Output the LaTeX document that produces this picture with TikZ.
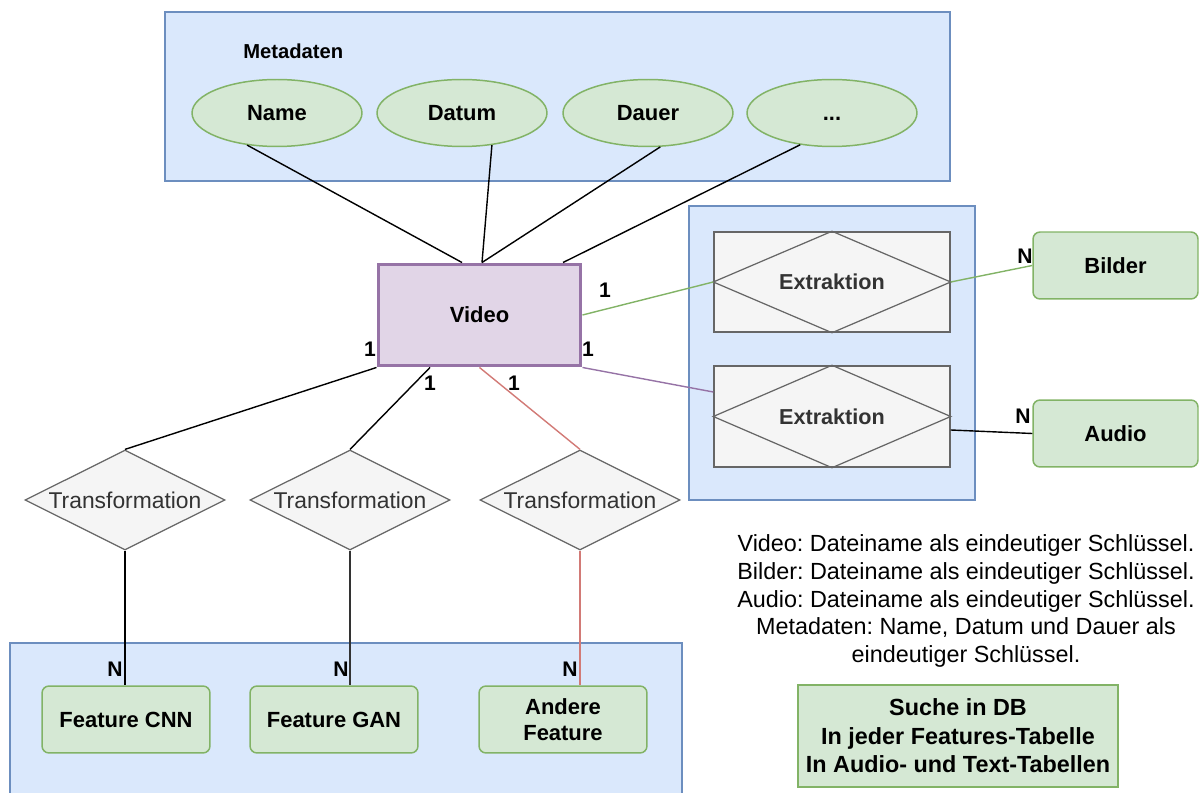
\documentclass[tikz,border=0pt]{standalone}
\usepackage{fontspec}
\setmainfont{Liberation Sans}
\usetikzlibrary{shapes.geometric,calc}
\definecolor{blueF}{HTML}{DAE8FC}
\definecolor{blueD}{HTML}{6C8EBF}
\definecolor{greenF}{HTML}{D5E8D4}
\definecolor{greenD}{HTML}{82B366}
\definecolor{purpleF}{HTML}{E1D5E7}
\definecolor{purpleD}{HTML}{9673A6}
\definecolor{grayF}{HTML}{F5F5F5}
\definecolor{grayD}{HTML}{666666}
\definecolor{txtgray}{HTML}{333333}
\definecolor{redL}{HTML}{D27A76}
\frenchspacing
\begin{document}
\begin{tikzpicture}[x=0.02cm,y=-0.02cm,
  group/.style={rectangle,draw=blueD,fill=blueF,line width=0.85pt,inner sep=0},
  attr/.style={ellipse,draw=greenD,fill=greenF,line width=0.85pt,minimum width=3.4cm,minimum height=1.34cm,inner sep=0,font=\fontsize{12.5pt}{15pt}\selectfont\bfseries},
  entity/.style={rectangle,rounded corners=4pt,draw=greenD,fill=greenF,line width=0.85pt,inner sep=0,font=\fontsize{12.5pt}{15pt}\selectfont\bfseries,align=center},
  trans/.style={diamond,draw=grayD,fill=grayF,line width=0.7pt,minimum width=4cm,minimum height=2cm,inner sep=0,text=txtgray,font=\fontsize{13pt}{15pt}\selectfont},
  extbox/.style={rectangle,draw=grayD,fill=grayF,line width=0.85pt,minimum width=4.72cm,minimum height=2cm,inner sep=0,text=txtgray,font=\fontsize{12.3pt}{15pt}\selectfont\bfseries},
  card/.style={inner sep=0,font=\fontsize{12pt}{14pt}\selectfont\bfseries},
  conn/.style={line width=0.8pt,draw=black},
]
\useasboundingbox (0,0) rectangle (1200,793);
\clip (0,0) rectangle (1200,793);

% group boxes
\node[group,minimum width=15.7cm,minimum height=3.38cm] (gmeta) at (557.5,96.5) {};
\node[group,minimum width=5.72cm,minimum height=5.88cm] (gext) at (832,353) {};
\node[group,minimum width=13.44cm,minimum height=3.34cm] (gfeat) at (346,726.5) {};

\node[anchor=west,inner sep=0,font=\fontsize{11.5pt}{14pt}\selectfont\bfseries] (mlabel) at (243,51) {Metadaten};

% attributes
\node[attr] (name) at (277,113) {Name};
\node[attr] (datum) at (462,113) {Datum};
\node[attr] (dauer) at (648,113) {Dauer};
\node[attr] (more) at (832,113) {\vphantom{N}...};

% video
\node[rectangle,draw=purpleD,fill=purpleF,line width=1.7pt,minimum width=4.06cm,minimum height=2.04cm,inner sep=0,font=\fontsize{12.5pt}{15pt}\selectfont\bfseries] (video) at (479.5,315) {Video};

% extraction
\node[extbox] (e1) at (832,282) {};
\node[extbox,minimum height=2.02cm] (e2) at (832,416.5) {};
\draw[grayD,line width=0.7pt] (e1.west) -- (e1.north) -- (e1.east) -- (e1.south) -- cycle;
\draw[grayD,line width=0.7pt] (e2.west) -- (e2.north) -- (e2.east) -- (e2.south) -- cycle;
\node[inner sep=0,text=txtgray,font=\fontsize{12.3pt}{15pt}\selectfont\bfseries] (e1t) at (e1.center) {Extraktion};
\node[inner sep=0,text=txtgray,font=\fontsize{12.3pt}{15pt}\selectfont\bfseries] (e2t) at (e2.center) {Extraktion};

\node[entity,minimum width=3.3cm,minimum height=1.34cm] (bilder) at (1115.5,265.5) {Bilder};
\node[entity,minimum width=3.3cm,minimum height=1.34cm] (audio) at (1115.5,433.5) {Audio};

% transformations
\node[trans] (t1) at (125,500) {\makebox[0pt]{Transformation}};
\node[trans] (t2) at (350,500) {\makebox[0pt]{Transformation}};
\node[trans] (t3) at (580,500) {\makebox[0pt]{Transformation}};

% features
\node[entity,minimum width=3.36cm,minimum height=1.34cm] (f1) at (126,719.5) {Feature CNN};
\node[entity,minimum width=3.36cm,minimum height=1.34cm] (f2) at (334,719.5) {Feature GAN};
\node[entity,minimum width=3.36cm,minimum height=1.34cm] (f3) at (563,719.5) {Andere\\[-0.5pt]Feature};

% connectors metadata
\draw[conn] (name.227) -- ($(video.north)+(-17.5,0)$);
\draw[conn] (datum.313) -- ($(video.north)+(2.5,0)$);
\draw[conn] (dauer.290) -- ($(video.north)+(2.5,0)$);
\draw[conn] (more.225) -- ($(video.north)+(83.5,0)$);

% connectors extraction
\draw[greenD,line width=0.8pt] (video.east) -- (e1.west);
\draw[greenD,line width=0.8pt] (e1.east) -- (bilder.west);
\draw[purpleD,line width=0.8pt] (video.south east) -- ($(e2.west)+(0,-24.5)$);
\draw[conn] ($(e2.east)+(0,13.5)$) -- (audio.west);

% connectors transformation
\draw[conn] (video.south west) -- (t1.north);
\draw[conn] ($(video.south)+(-49.5,0)$) -- (t2.north);
\draw[redL,line width=0.8pt] (video.south) -- (t3.north);
\draw[conn] (t1.south) -- (t1.south |- f1.north);
\draw[conn,draw=txtgray,line width=1pt] (t2.south) -- (t2.south |- f2.north);
\draw[redL,line width=0.8pt] (t3.south) -- (t3.south |- f3.north);

% cardinalities
\node[card] (c1) at (605,290) {1};
\node[card] (c2) at (370,349) {1};
\node[card] (c3) at (588,349) {1};
\node[card] (c4) at (430,383) {1};
\node[card] (c5) at (514,383) {1};
\node[card] (n1) at (1025,256) {N};
\node[card] (n2) at (1023,416) {N};
\node[card] (n3) at (115,669) {N};
\node[card] (n4) at (341,669) {N};
\node[card] (n5) at (570,669) {N};

% notes
\node[inner sep=0,align=center,font=\fontsize{13.3pt}{15.9pt}\selectfont] (notes) at (966,601) {Video: Dateiname als eindeutiger Schlüssel.\\Bilder: Dateiname als eindeutiger Schlüssel.\\Audio: Dateiname als eindeutiger Schlüssel.\\Metadaten: Name, Datum und Dauer als\\eindeutiger Schlüssel.};

\node[rectangle,draw=greenD,fill=greenF,line width=0.85pt,minimum width=6.4cm,minimum height=2.04cm,inner sep=0,align=center,font=\fontsize{13.3pt}{16.2pt}\selectfont\bfseries] (search) at (958,736) {Suche in DB\\In jeder Features-Tabelle\\In Audio- und Text-Tabellen};
\end{tikzpicture}
\end{document}
